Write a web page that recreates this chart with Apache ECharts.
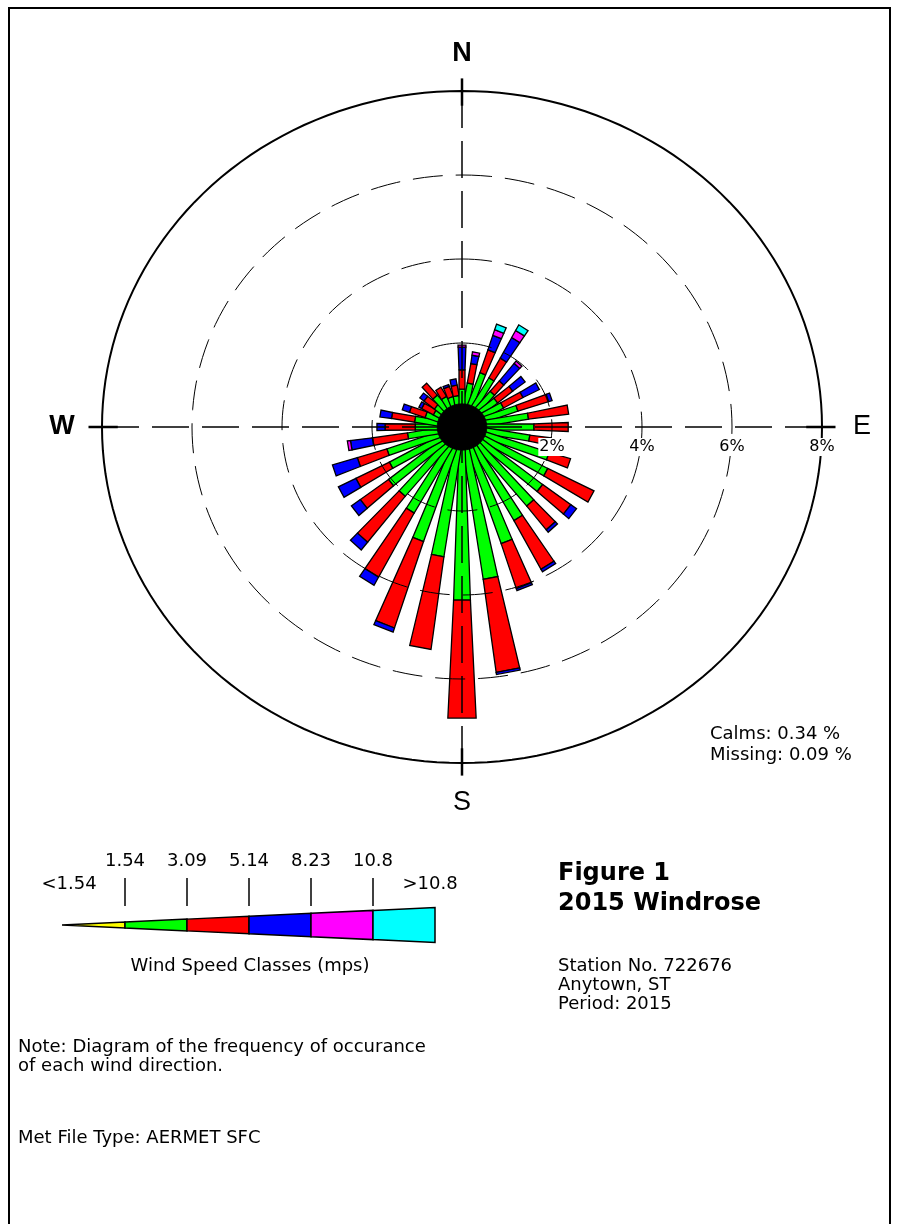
<!DOCTYPE html>
<html>
<head>
<meta charset="utf-8">
<script src="https://cdn.jsdelivr.net/npm/echarts@6/dist/echarts.min.js"></script>
<style>
  html, body { margin: 0; padding: 0; background: #fff; }
  #chart { width: 901px; height: 1224px; }
</style>
</head>
<body>
<div id="chart"></div>
<script>
// wind directions (degrees, blowing from), one petal each
const directions = [10, 20, 30, 40, 50, 60, 70, 80, 90, 100, 110, 120, 130, 140, 150, 160, 170, 180,
  190, 200, 210, 220, 230, 240, 250, 260, 270, 280, 290, 300, 310, 320, 330, 340, 350, 360];

// frequency (%) per speed class, same order as directions
const freqBelow154 = [0.3, 0.3, 0.3, 0.3, 0.3, 0.3, 0.3, 0.3, 0.3, 0.35, 0.5, 0.5, 0.5, 0.5, 0.5, 0.45, 0.4, 0.4,
  0.35, 0.3, 0.3, 0.3, 0.3, 0.3, 0.3, 0.3, 0.3, 0.3, 0.3, 0.3, 0.3, 0.3, 0.3, 0.3, 0.3, 0.3];
const freq154to309 = [0.75, 1.05, 1.01, 0.75, 0.68, 0.73, 1.0, 1.19, 1.3, 1.17, 1.53, 1.65, 1.76, 1.86, 2.0, 2.45, 3.25, 3.72,
  2.76, 2.55, 2.0, 1.77, 1.76, 1.52, 1.45, 0.92, 0.74, 0.76, 0.55, 0.4, 0.45, 0.63, 0.5, 0.45, 0.45, 0.6];
const freq309to514 = [0.47, 0.57, 0.53, 0.32, 0.44, 0.5, 0.72, 0.9, 0.76, 0.48, 0.5, 1.16, 0.79, 0.71, 1.3, 1.12, 2.23, 2.81,
  2.22, 2.15, 1.71, 1.37, 0.79, 0.84, 0.69, 0.79, 0.67, 0.52, 0.37, 0.3, 0.3, 0.37, 0.25, 0.25, 0.25, 0.46];
const freq514to823 = [0.2, 0.36, 0.55, 0.53, 0.35, 0.41, 0.08, 0, 0, 0, 0, 0, 0.16, 0.07, 0.07, 0.05, 0.05, 0,
  0, 0.1, 0.22, 0.23, 0.25, 0.44, 0.58, 0.49, 0.18, 0.26, 0.17, 0.07, 0.12, 0, 0, 0.05, 0.15, 0.54];
const freq823to108 = [0.08, 0.14, 0.19, 0.07, 0, 0, 0, 0, 0, 0, 0, 0, 0, 0, 0, 0, 0, 0,
  0, 0, 0, 0, 0, 0, 0, 0.07, 0, 0, 0, 0, 0, 0, 0, 0, 0, 0.05];
const freqAbove108 = [0, 0.14, 0.15, 0, 0, 0, 0, 0, 0, 0, 0, 0, 0, 0, 0, 0, 0, 0,
  0, 0, 0, 0, 0, 0, 0, 0, 0, 0, 0, 0, 0, 0, 0, 0, 0, 0];

const classColors = ['#ffff00', '#00ff00', '#ff0000', '#0000ff', '#ff00ff', '#00ffff'];
const classBreaks = ['1.54', '3.09', '5.14', '8.23', '10.8'];
const ringLevels = [2, 4, 6, 8];
const compass = [['N', 0, 37], ['E', 90, 40], ['S', 180, 40], ['W', 270, 40]];
const calms = 0.34;
const missing = 0.09;

const FONT = '"DejaVu Sans", sans-serif';
const PETAL_HALF = 2.6;   // half angular width of a petal, degrees
const MIN_HALF_PX = 3;    // petals never get thinner than this near the hub
const HUB = 0.55;         // radius (%) of the solid black centre where outlines merge

const classSeries = [freqBelow154, freq154to309, freq309to514, freq514to823, freq823to108, freqAbove108];
const petalData = [];
directions.forEach((dir, i) => {
  let start = 0;
  classSeries.forEach((arr, c) => {
    if (arr[i] > 0) {
      petalData.push([dir, start, start + arr[i], c]);
      start += arr[i];
    }
  });
});

function polarPoint(api, r, deg) {
  const a = deg * Math.PI / 180;
  return api.coord([r * Math.sin(a), r * Math.cos(a)]);
}

// two edge points of a petal at radius r (pixel space)
function petalEdge(api, r, dir) {
  const c = polarPoint(api, r, dir);
  const o = polarPoint(api, 8, dir);
  const zero = polarPoint(api, 0, dir);
  let ux = o[0] - zero[0], uy = o[1] - zero[1];
  const len = Math.hypot(ux, uy);
  ux /= len; uy /= len;
  const side = polarPoint(api, r, dir + PETAL_HALF);
  const hw = Math.max(Math.hypot(side[0] - c[0], side[1] - c[1]), MIN_HALF_PX);
  return [[c[0] - uy * hw, c[1] + ux * hw], [c[0] + uy * hw, c[1] - ux * hw]];
}

function renderPetal(params, api) {
  const dir = api.value(0), r0 = api.value(1), r1 = api.value(2), cls = api.value(3);
  const a = petalEdge(api, r0, dir), b = petalEdge(api, r1, dir);
  return {
    type: 'polygon',
    shape: { points: [a[0], b[0], b[1], a[1]] },
    style: { fill: classColors[cls], stroke: '#000', lineWidth: 1.3 }
  };
}

function ringPoints(api, r) {
  const pts = [];
  for (let d = 0; d <= 360; d += 2) pts.push(polarPoint(api, r, d));
  return pts;
}

function renderRing(params, api) {
  const r = api.value(0);
  const outer = r === 8;
  return {
    type: 'polyline',
    shape: { points: ringPoints(api, r) },
    style: { fill: 'none', stroke: '#000', lineWidth: outer ? 2 : 1, lineDash: outer ? null : [30, 13] }
  };
}

function renderHub(params, api) {
  return {
    type: 'polygon',
    shape: { points: ringPoints(api, api.value(0)) },
    style: { fill: '#000', stroke: '#000', lineWidth: 1 }
  };
}

function segment(api, r0, r1, d) {
  const a = polarPoint(api, r0, d), b = polarPoint(api, r1, d);
  return { x1: a[0], y1: a[1], x2: b[0], y2: b[1] };
}

function renderAxis(params, api) {
  const d = api.value(0);
  return {
    type: 'group',
    children: [
      { type: 'line', shape: segment(api, 8, 0, d), style: { stroke: '#000', lineWidth: 1.5, lineDash: [37, 13] } },
      { type: 'line', shape: segment(api, 7.65, 8.3, d), style: { stroke: '#000', lineWidth: 2.5 } }
    ]
  };
}

function renderRingLabel(params, api) {
  const r = api.value(0);
  const p = api.coord([r, 0]);
  return {
    type: 'text',
    x: p[0], y: p[1] + 20,
    style: {
      text: r + '%', fill: '#000', font: '16px ' + FONT,
      align: 'center', verticalAlign: 'middle',
      backgroundColor: '#fff', padding: [1, 1]
    }
  };
}

function renderCompass(params, api) {
  const [label, d, off] = compass[params.dataIndex];
  const p = polarPoint(api, 8, d);
  const a = d * Math.PI / 180;
  const bold = label === 'N' || label === 'W';
  return {
    type: 'text',
    x: p[0] + off * Math.sin(a), y: p[1] - off * Math.cos(a),
    style: {
      text: label, fill: '#000', font: (bold ? 'bold ' : '') + '27px "Liberation Sans", Arial, sans-serif',
      align: 'center', verticalAlign: 'middle'
    }
  };
}

// legend wedge (speed classes)
const legendTip = 62, legendStart = 125, legendStep = 62, legendY = 925;
const halfH = x => (x - legendTip) * 0.047;
const legendGraphics = [];
classColors.forEach((col, i) => {
  const x0 = i === 0 ? legendTip : legendStart + legendStep * (i - 1);
  const x1 = legendStart + legendStep * i;
  legendGraphics.push({
    type: 'polygon',
    shape: { points: [[x0, legendY - halfH(x0)], [x1, legendY - halfH(x1)], [x1, legendY + halfH(x1)], [x0, legendY + halfH(x0)]] },
    style: { fill: col, stroke: '#000', lineWidth: 1.5 }
  });
});
classBreaks.forEach((b, i) => {
  const x = legendStart + legendStep * i;
  legendGraphics.push({ type: 'text', x: x, y: 861, style: { text: b, font: '18px ' + FONT, fill: '#000', align: 'center', verticalAlign: 'middle' } });
  legendGraphics.push({ type: 'line', shape: { x1: x, y1: 878, x2: x, y2: 906 }, style: { stroke: '#000', lineWidth: 1.5 } });
});
legendGraphics.push({ type: 'text', x: 69, y: 884, style: { text: '<' + classBreaks[0], font: '18px ' + FONT, fill: '#000', align: 'center', verticalAlign: 'middle' } });
legendGraphics.push({ type: 'text', x: 430, y: 884, style: { text: '>' + classBreaks[4], font: '18px ' + FONT, fill: '#000', align: 'center', verticalAlign: 'middle' } });
legendGraphics.push({ type: 'text', x: 250, y: 966, style: { text: 'Wind Speed Classes (mps)', font: '18px ' + FONT, fill: '#000', align: 'center', verticalAlign: 'middle' } });

function label(text, x, y, font) {
  return { type: 'text', x: x, y: y, style: { text: text, font: font || '18px ' + FONT, fill: '#000', align: 'left', verticalAlign: 'middle' } };
}

const chart = echarts.init(document.getElementById('chart'), null, { renderer: 'canvas' });
chart.setOption({
  animation: false,
  backgroundColor: '#fff',
  grid: { left: 102, top: 91, width: 720, height: 672 },
  xAxis: { type: 'value', min: -8, max: 8, show: false },
  yAxis: { type: 'value', min: -8, max: 8, show: false },
  graphic: [
    { type: 'rect', shape: { x: 9, y: 8, width: 881, height: 1300 }, style: { fill: 'none', stroke: '#000', lineWidth: 2 } },
    label('Calms: ' + calms + ' %', 710, 734),
    label('Missing: ' + missing.toFixed(2) + ' %', 710, 755),
    label('Figure 1', 558, 874, 'bold 24px ' + FONT),
    label('2015 Windrose', 558, 904, 'bold 24px ' + FONT),
    label('Station No. 722676', 558, 966),
    label('Anytown, ST', 558, 985),
    label('Period: 2015', 558, 1004),
    label('Note: Diagram of the frequency of occurance', 18, 1047),
    label('of each wind direction.', 18, 1066),
    label('Met File Type: AERMET SFC', 18, 1138)
  ].concat(legendGraphics),
  series: [
    { type: 'custom', renderItem: renderPetal, data: petalData, clip: false, silent: true, z: 2 },
    { type: 'custom', renderItem: renderHub, data: [[HUB, 0]], silent: true, z: 3 },
    { type: 'custom', renderItem: renderRing, data: ringLevels.map(r => [r, 0]), silent: true, z: 3 },
    { type: 'custom', renderItem: renderAxis, data: compass.map(c => [c[1], 0]), silent: true, z: 3 },
    { type: 'custom', renderItem: renderRingLabel, data: ringLevels.map(r => [r, 0]), silent: true, z: 4 },
    { type: 'custom', renderItem: renderCompass, data: compass.map(c => [c[1], 0]), silent: true, z: 4 }
  ]
});
</script>
</body>
</html>
